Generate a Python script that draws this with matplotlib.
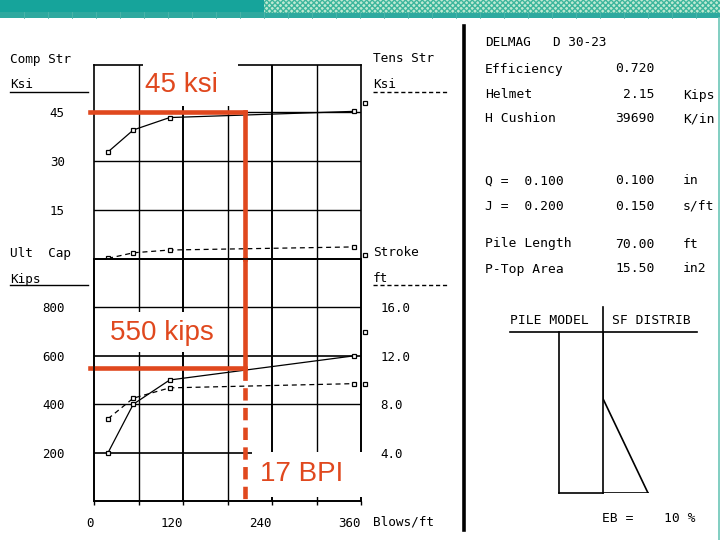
import matplotlib
matplotlib.use('Agg')
import matplotlib.pyplot as plt
from matplotlib.patches import Rectangle

# ---------------- data ----------------
blows = [19, 53, 102, 351]                 # blows/ft
capacity_kips = [200, 400, 500, 600]       # ultimate capacity
stroke_ft = [6.8, 8.5, 9.35, 9.7]          # hammer stroke
comp_stress_ksi = [32.8, 39.5, 43.3, 45.2] # compressive stress
tens_stress_ksi = [0.2, 1.9, 2.75, 3.7]    # tension stress

stress_ticks = [15, 30, 45]
stress_labels = ['15', '30', '45']
capacity_ticks = [200, 400, 600, 800]
capacity_labels = ['200', '400', '600', '800']
stroke_ticks = [4.0, 8.0, 12.0, 16.0]
stroke_labels = ['4.0', '8.0', '12.0', '16.0']
blow_ticks = [0, 60, 120, 180, 240, 300, 360]
blow_labels = ['0', '', '120', '', '240', '', '360']

edge_blows = [366, 366]
edge_stress = [47.8, 1.2]
edge_stroke = [14.0, 9.7]

target_stress = 45
target_capacity = 550
target_blows = 204   # 17 BPI
target_texts = ['45 ksi', '550 kips', '17 BPI']

hammer_name = ['DELMAG', 'D 30-23']
info_labels = ['Efficiency', 'Helmet', 'H Cushion', 'Q =  0.100', 'J =  0.200',
               'Pile Length', 'P-Top Area']
info_values = ['0.720', '2.15', '39690', '0.100', '0.150', '70.00', '15.50']
info_units = ['', 'Kips', 'K/in', 'in', 's/ft', 'ft', 'in2']

sf_depth = [0, 29, 70]
sf_value = [0, 0, 1]
eb_text = ['EB =', '10 %']

# ---------------- style ----------------
MONO = 'DejaVu Sans Mono'
RED = '#e0481e'
W, H = 720, 540

fig = plt.figure(figsize=(7.2, 5.4), dpi=100)
fig.patch.set_facecolor('white')

def fpos(x0, y0, x1, y1):
    return [x0 / W, 1 - y1 / H, (x1 - x0) / W, (y1 - y0) / H]

ax_top = fig.add_axes(fpos(94, 65, 361, 259))
ax_bot = fig.add_axes(fpos(94, 259, 361, 501))
ax_str = ax_bot.twinx()

ax_top.set_xlim(0, 360)
ax_top.set_ylim(0, 194 / (147 / 45))
ax_bot.set_xlim(0, 360)
ax_bot.set_ylim(0, 1000)
ax_str.set_ylim(0, 20)

for a in (ax_top, ax_bot, ax_str):
    a.patch.set_visible(False)
    for s in a.spines.values():
        s.set_linewidth(1.2)
        s.set_color('black')

# grid lines
for x in blow_ticks[1:-1]:
    lw = 1.4 if x in (120, 240) else 1.0
    ax_top.axvline(x, color='black', lw=lw, zorder=1)
    ax_bot.axvline(x, color='black', lw=lw, zorder=1)
for y in stress_ticks:
    ax_top.axhline(y, color='black', lw=1.0, zorder=1)
for y in capacity_ticks:
    ax_bot.axhline(y, color='black', lw=1.2 if y in (200, 600) else 1.0, zorder=1)

# ticks
ax_top.set_xticks([])
ax_top.set_yticks(stress_ticks)
ax_top.set_yticklabels(stress_labels, family=MONO, fontsize=9)
ax_top.tick_params(axis='y', length=0, pad=21)

ax_bot.set_xticks(blow_ticks)
ax_bot.set_xticklabels(blow_labels, family=MONO, fontsize=9, ha='right')
ax_bot.tick_params(axis='x', direction='out', length=3, width=1, pad=8.5)
ax_bot.set_yticks(capacity_ticks)
ax_bot.set_yticklabels(capacity_labels, family=MONO, fontsize=9)
ax_bot.tick_params(axis='y', length=0, pad=21)

ax_str.set_yticks(stroke_ticks)
ax_str.set_yticklabels(stroke_labels, family=MONO, fontsize=9)
ax_str.tick_params(axis='y', length=0, pad=14)

mk = dict(marker='s', ms=3.2, mfc='white', mec='black', mew=0.9)
ax_top.plot(blows, comp_stress_ksi, '-', color='black', lw=0.9, zorder=3, **mk)
ax_top.plot(blows, tens_stress_ksi, '--', dashes=(4, 3), color='black', lw=0.9, zorder=3, **mk)
ax_bot.plot(blows, capacity_kips, '-', color='black', lw=0.9, zorder=3, **mk)
ax_str.plot(blows, stroke_ft, '--', dashes=(4, 3), color='black', lw=0.9, zorder=3, **mk)
ax_top.plot(edge_blows, edge_stress, ls='none', clip_on=False, zorder=3, **mk)
ax_str.plot(edge_blows, edge_stroke, ls='none', clip_on=False, zorder=3, **mk)

# red target overlays
rl = dict(color=RED, lw=3.3, clip_on=False, zorder=6, solid_capstyle='projecting')
ax_top.plot([-5, target_blows], [target_stress, target_stress], **rl)
ax_top.plot([target_blows, target_blows], [target_stress, 0], **rl)
ax_bot.plot([target_blows, target_blows], [1000, target_capacity], **rl)
ax_bot.plot([-5, target_blows], [target_capacity, target_capacity], **rl)
ax_bot.plot([target_blows, target_blows], [target_capacity, 0], color=RED, lw=3.3,
            clip_on=False, zorder=6, ls=(0, (2.7, 1.6)), dash_capstyle='butt')

# ---------------- overlay (pixel coords) ----------------
ov = fig.add_axes([0, 0, 1, 1], zorder=10)
ov.set_xlim(0, W)
ov.set_ylim(H, 0)
ov.axis('off')

# header band
ov.add_patch(Rectangle((0, 0), W, 18, fc='#16a49b', ec='none'))
ov.add_patch(Rectangle((0, 12), W, 6, fc='#2ea99f', ec='none'))
ov.add_patch(Rectangle((264, 0), W - 264, 12.5, fc='#bfe9d3', ec='#3db69c', lw=0,
                       hatch='xxxxxx'))
for xd in range(24, W, 24):
    ov.plot([xd, xd], [12, 18], color='#4fb5aa', lw=0.6)
ov.plot([718.5, 718.5], [18, H], color='#6cc6b8', lw=1.2)

# white boxes behind the annotations
ov.add_patch(Rectangle((143, 60), 95, 46, fc='white', ec='none'))
ov.add_patch(Rectangle((100, 312), 122, 40, fc='white', ec='none'))
ov.add_patch(Rectangle((252, 452), 111, 45, fc='white', ec='none'))
ov.text(181, 85, target_texts[0], ha='center', va='center', color=RED, fontsize=20,
        family='Liberation Sans')
ov.text(162, 333, target_texts[1], ha='center', va='center', color=RED, fontsize=20,
        family='Liberation Sans')
ov.text(302, 474, target_texts[2], ha='center', va='center', color=RED, fontsize=20,
        family='Liberation Sans')

def t(x, y, s, fs=9.2, ha='left'):
    ov.text(x, y, s, ha=ha, va='center', family=MONO, fontsize=fs, color='black')

# axis titles
t(10, 59, 'Comp Str')
t(10, 85, 'Ksi')
ov.plot([10, 88], [92, 92], color='black', lw=1)
t(10, 253, 'Ult  Cap')
t(10, 279, 'Kips')
ov.plot([10, 88], [285, 285], color='black', lw=1)
t(373, 59, 'Tens Str')
t(373, 85, 'Ksi')
ov.plot([373, 447], [92, 92], color='black', lw=1, ls=(0, (3, 2)))
t(373, 253, 'Stroke')
t(373, 279, 'ft')
ov.plot([373, 447], [285, 285], color='black', lw=1, ls=(0, (3, 2)))
t(373, 522, 'Blows/ft')

# right panel
ov.plot([464, 464], [26, 530], color='black', lw=2.6)
t(485, 43, hammer_name[0], fs=9.2)
t(553, 43, hammer_name[1], fs=9.2)
row_y = [69, 95, 119, 181, 206, 244, 269]
for yy, lab, val, unit in zip(row_y, info_labels, info_values, info_units):
    t(485, yy, lab, fs=9.4)
    t(655, yy, val, fs=9.4, ha='right')
    if unit:
        t(683, yy, unit, fs=9.4)

t(510, 320, 'PILE MODEL', fs=9.4)
t(612, 320, 'SF DISTRIB', fs=9.4)
ov.plot([510, 697], [332, 332], color='black', lw=1.2)
ov.plot([603, 603], [307, 493], color='black', lw=1.2)
ov.plot([559, 559], [332, 493], color='black', lw=1.2)
ov.plot([559, 603], [493, 493], color='black', lw=1.2)
t(602, 519, eb_text[0], fs=9.4)
t(664, 519, eb_text[1], fs=9.4)

ax_sf = fig.add_axes(fpos(603, 332, 697, 493), zorder=11)
ax_sf.set_xlim(0, 94 / 45)
ax_sf.set_ylim(70, 0)
ax_sf.axis('off')
ax_sf.plot(sf_value, sf_depth, color='black', lw=1.2)
ax_sf.plot([0, sf_value[-1]], [sf_depth[-1], sf_depth[-1]], color='black', lw=1.2)

fig.savefig('out.png', dpi=100)
